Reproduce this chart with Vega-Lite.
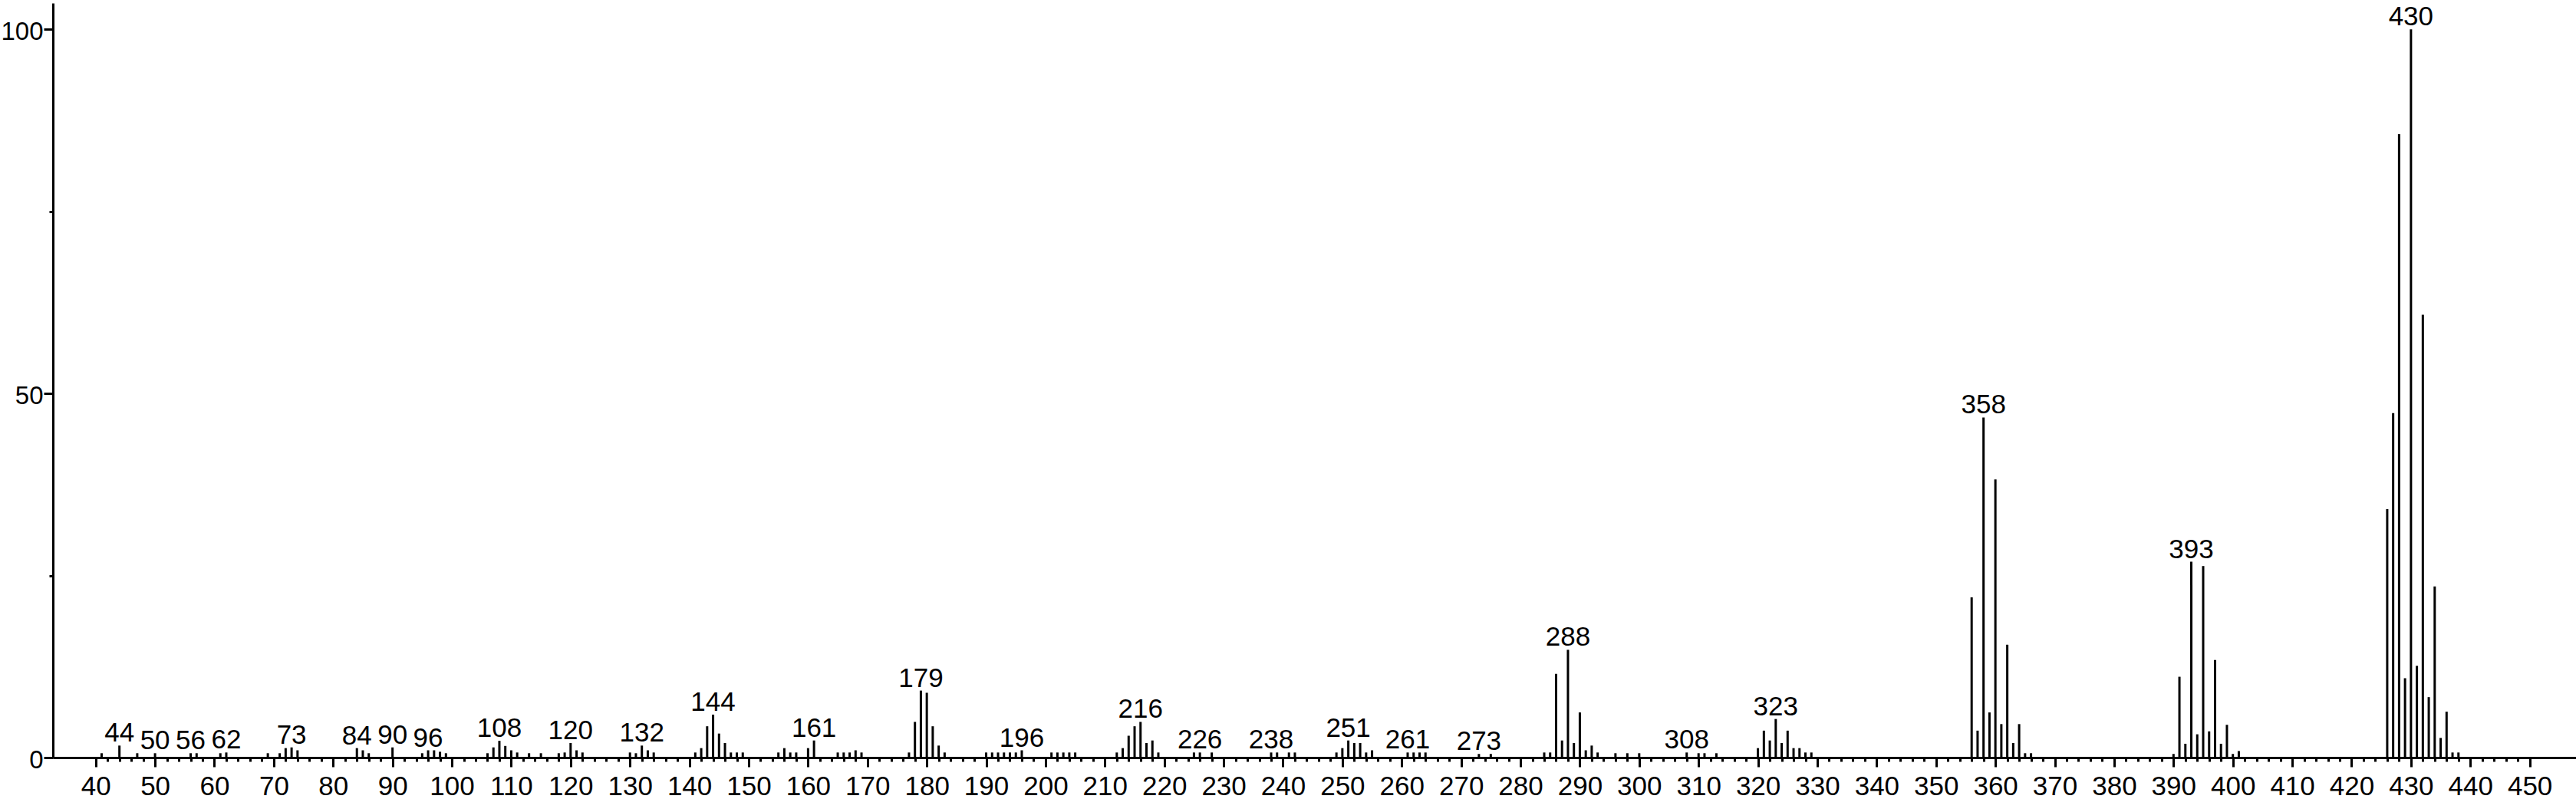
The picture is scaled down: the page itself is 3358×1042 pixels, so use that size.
{
  "$schema": "https://vega.github.io/schema/vega-lite/v6.json",
  "width": 3289,
  "height": 984,
  "autosize": {"type": "none"},
  "padding": {"left": 69, "top": 4, "right": 0, "bottom": 54},
  "background": "white",
  "config": {"view": {"stroke": null}, "font": "Liberation Sans Narrow, Liberation Sans, Arial, sans-serif"},
  "data": {"values": [
    {"mz":41,"rel":0.6},{"mz":44,"rel":1.65,"lab":1},{"mz":47,"rel":0.6},{"mz":50,"rel":0.6,"lab":1},
    {"mz":56,"rel":0.6,"lab":1},{"mz":57,"rel":0.6},{"mz":61,"rel":0.6},{"mz":62,"rel":0.7,"lab":1},
    {"mz":69,"rel":0.6},{"mz":71,"rel":0.6},{"mz":72,"rel":1.3},{"mz":73,"rel":1.4,"lab":1},{"mz":74,"rel":1.0},
    {"mz":84,"rel":1.3,"lab":1},{"mz":85,"rel":1.0},{"mz":86,"rel":0.6},{"mz":90,"rel":1.4,"lab":1},
    {"mz":95,"rel":0.6},{"mz":96,"rel":1.0,"lab":1},{"mz":97,"rel":1.0},{"mz":98,"rel":0.8},{"mz":99,"rel":0.6},
    {"mz":106,"rel":0.6},{"mz":107,"rel":1.4},{"mz":108,"rel":2.3,"lab":1},{"mz":109,"rel":1.6},{"mz":110,"rel":1.0},
    {"mz":111,"rel":0.7},{"mz":113,"rel":0.6},{"mz":115,"rel":0.6},{"mz":118,"rel":0.6},{"mz":119,"rel":0.7},
    {"mz":120,"rel":2.0,"lab":1},{"mz":121,"rel":1.0},{"mz":122,"rel":0.7},
    {"mz":130,"rel":0.7},{"mz":131,"rel":0.6},{"mz":132,"rel":1.65,"lab":1},{"mz":133,"rel":1.0},{"mz":134,"rel":0.7},
    {"mz":141,"rel":0.7},{"mz":142,"rel":1.3},{"mz":143,"rel":4.3},{"mz":144,"rel":5.9,"lab":1},{"mz":145,"rel":3.3},
    {"mz":146,"rel":2.0},{"mz":147,"rel":0.7},{"mz":148,"rel":0.7},{"mz":149,"rel":0.7},
    {"mz":155,"rel":0.7},{"mz":156,"rel":1.3},{"mz":157,"rel":0.7},{"mz":158,"rel":0.7},
    {"mz":160,"rel":1.3},{"mz":161,"rel":2.35,"lab":1},
    {"mz":165,"rel":0.7},{"mz":166,"rel":0.7},{"mz":167,"rel":0.7},{"mz":168,"rel":1.0},{"mz":169,"rel":0.7},
    {"mz":177,"rel":0.7},{"mz":178,"rel":4.9},{"mz":179,"rel":9.2,"lab":1},{"mz":180,"rel":8.9},{"mz":181,"rel":4.3},
    {"mz":182,"rel":1.65},{"mz":183,"rel":0.7},
    {"mz":190,"rel":0.7},{"mz":191,"rel":0.7},{"mz":192,"rel":0.7},{"mz":193,"rel":0.7},{"mz":194,"rel":0.7},
    {"mz":195,"rel":0.7},{"mz":196,"rel":1.0,"lab":1},
    {"mz":201,"rel":0.7},{"mz":202,"rel":0.7},{"mz":203,"rel":0.7},{"mz":204,"rel":0.7},{"mz":205,"rel":0.7},
    {"mz":212,"rel":0.7},{"mz":213,"rel":1.3},{"mz":214,"rel":3.0},{"mz":215,"rel":4.3},{"mz":216,"rel":4.9,"lab":1},
    {"mz":217,"rel":2.0},{"mz":218,"rel":2.35},{"mz":219,"rel":0.7},
    {"mz":225,"rel":0.7},{"mz":226,"rel":0.7,"lab":1},{"mz":228,"rel":0.7},
    {"mz":238,"rel":0.7,"lab":1},{"mz":239,"rel":0.7},{"mz":241,"rel":0.7},{"mz":242,"rel":0.7},
    {"mz":249,"rel":0.7},{"mz":250,"rel":1.3},{"mz":251,"rel":2.35,"lab":1},{"mz":252,"rel":2.0},{"mz":253,"rel":2.0},
    {"mz":254,"rel":0.7},{"mz":255,"rel":1.0},
    {"mz":261,"rel":0.7,"lab":1},{"mz":262,"rel":0.7},{"mz":263,"rel":0.7},{"mz":264,"rel":0.7},
    {"mz":273,"rel":0.5,"lab":1},{"mz":275,"rel":0.5},
    {"mz":284,"rel":0.7},{"mz":285,"rel":0.7},{"mz":286,"rel":11.5},{"mz":287,"rel":2.35},{"mz":288,"rel":14.8,"lab":1},
    {"mz":289,"rel":2.0},{"mz":290,"rel":6.2},{"mz":291,"rel":1.0},{"mz":292,"rel":1.65},{"mz":293,"rel":0.7},
    {"mz":296,"rel":0.6},{"mz":298,"rel":0.6},{"mz":300,"rel":0.6},
    {"mz":308,"rel":0.7,"lab":1},{"mz":310,"rel":0.6},{"mz":311,"rel":0.6},{"mz":313,"rel":0.6},
    {"mz":320,"rel":1.3},{"mz":321,"rel":3.7},{"mz":322,"rel":2.35},{"mz":323,"rel":5.3,"lab":1},{"mz":324,"rel":2.0},
    {"mz":325,"rel":3.7},{"mz":326,"rel":1.3},{"mz":327,"rel":1.3},{"mz":328,"rel":0.7},{"mz":329,"rel":0.7},
    {"mz":356,"rel":22.0},{"mz":357,"rel":3.7},{"mz":358,"rel":46.7,"lab":1},{"mz":359,"rel":6.2},{"mz":360,"rel":38.2},
    {"mz":361,"rel":4.6},{"mz":362,"rel":15.5},{"mz":363,"rel":2.0},{"mz":364,"rel":4.6},{"mz":365,"rel":0.6},{"mz":366,"rel":0.6},
    {"mz":390,"rel":0.5},{"mz":391,"rel":11.1},{"mz":392,"rel":1.9},{"mz":393,"rel":26.9,"lab":1},{"mz":394,"rel":3.2},
    {"mz":395,"rel":26.3},{"mz":396,"rel":3.6},{"mz":397,"rel":13.4},{"mz":398,"rel":1.9},{"mz":399,"rel":4.5},
    {"mz":400,"rel":0.5},{"mz":401,"rel":0.9},
    {"mz":426,"rel":34.1},{"mz":427,"rel":47.3},{"mz":428,"rel":85.6},{"mz":429,"rel":10.9},{"mz":430,"rel":100,"lab":1},
    {"mz":431,"rel":12.6},{"mz":432,"rel":60.8},{"mz":433,"rel":8.3},{"mz":434,"rel":23.5},{"mz":435,"rel":2.7},
    {"mz":436,"rel":6.3},{"mz":437,"rel":0.7},{"mz":438,"rel":0.7}
  ]},
  "layer": [
    {
      "mark": {"type": "rule", "strokeWidth": 3, "color": "black", "strokeCap": "butt"},
      "encoding": {
        "x": {
          "field": "mz", "type": "quantitative",
          "scale": {"domain": [32.8, 457.8], "nice": false, "zero": false},
          "axis": {
            "title": null, "grid": false, "tickCount": 1000,
            "values": [40,42,44,46,48,50,52,54,56,58,60,62,64,66,68,70,72,74,76,78,80,82,84,86,88,90,92,94,96,98,100,102,104,106,108,110,112,114,116,118,120,122,124,126,128,130,132,134,136,138,140,142,144,146,148,150,152,154,156,158,160,162,164,166,168,170,172,174,176,178,180,182,184,186,188,190,192,194,196,198,200,202,204,206,208,210,212,214,216,218,220,222,224,226,228,230,232,234,236,238,240,242,244,246,248,250,252,254,256,258,260,262,264,266,268,270,272,274,276,278,280,282,284,286,288,290,292,294,296,298,300,302,304,306,308,310,312,314,316,318,320,322,324,326,328,330,332,334,336,338,340,342,344,346,348,350,352,354,356,358,360,362,364,366,368,370,372,374,376,378,380,382,384,386,388,390,392,394,396,398,400,402,404,406,408,410,412,414,416,418,420,422,424,426,428,430,432,434,436,438,440,442,444,446,448,450],
            "format": "d",
            "labelExpr": "datum.value % 10 === 0 ? datum.label : ''",
            "tickSize": {"condition": {"test": "datum.value % 10 === 0", "value": 12}, "value": 5},
            "tickWidth": 3, "tickColor": "black",
            "domainColor": "black", "domainWidth": 3,
            "labelFontSize": 35, "labelColor": "black", "labelPadding": 8,
            "labelFlush": false, "labelOverlap": false
          }
        },
        "y": {
          "field": "rel", "type": "quantitative",
          "scale": {"domain": [0, 103.6], "nice": false},
          "axis": {
            "title": null, "grid": false, "tickCount": 100,
            "values": [0, 25, 50, 75, 100],
            "labelExpr": "datum.value % 50 === 0 ? datum.label : ''",
            "tickSize": {"condition": {"test": "datum.value % 50 === 0", "value": 12}, "value": 5},
            "tickWidth": 3, "tickColor": "black",
            "domainColor": "black", "domainWidth": 3,
            "labelFontSize": 33, "labelColor": "black", "labelPadding": 1, "labelOffset": 3,
            "labelFlush": false, "labelOverlap": false
          }
        },
        "y2": {"datum": 0}
      }
    },
    {
      "transform": [{"filter": "datum.lab == 1"}],
      "mark": {"type": "text", "baseline": "alphabetic", "dy": -5, "fontSize": 35, "color": "black"},
      "encoding": {
        "x": {"field": "mz", "type": "quantitative"},
        "y": {"field": "rel", "type": "quantitative"},
        "text": {"field": "mz", "type": "quantitative", "format": "d"}
      }
    }
  ]
}
